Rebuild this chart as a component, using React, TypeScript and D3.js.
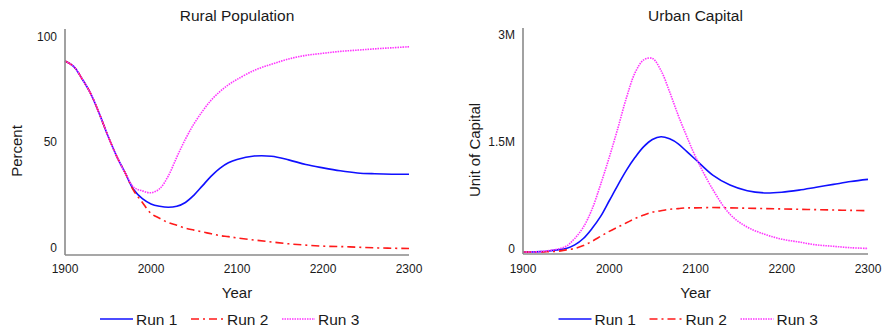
import React from "react";
import * as d3 from "d3";

// sample years shared by both panels
const years = [
  1900, 1910, 1920, 1930, 1940, 1950, 1960, 1970, 1980, 1990, 2000,
  2010, 2020, 2030, 2040, 2050, 2060, 2070, 2080, 2090, 2100,
  2120, 2140, 2160, 2180, 2200, 2220, 2240, 2260, 2280, 2300,
];

// Rural Population (percent)
const ruralRun1 = [
  90, 87.5, 81.5, 74.5, 65, 54.5, 45, 37, 29, 24.8, 22.3,
  21.2, 20.7, 21.2, 23, 26.5, 31, 35.5, 39.2, 41.8, 43.4,
  45, 44.9, 43.2, 41, 39.4, 38, 37, 36.6, 36.4, 36.4,
];
const ruralRun2 = [
  90, 87.5, 81.5, 74.5, 65, 54.5, 45, 37, 28.5, 23, 17.8,
  15.5, 13.5, 12.2, 10.8, 9.9, 9, 8.2, 7.3, 6.8, 6.2,
  5.2, 4.3, 3.4, 2.8, 2.3, 2.1, 1.8, 1.5, 1.3, 1.2,
];
const ruralRun3 = [
  90, 87.5, 81.5, 74.5, 65, 54.5, 45, 37, 30.2, 28.5, 27.6,
  29.5, 35.5, 44.5, 53, 60.3, 66.3, 71.5, 75.5, 78.8, 81.3,
  85.6, 88.5, 91, 92.7, 93.7, 94.6, 95.2, 95.8, 96.3, 96.8,
];

// Urban Capital (millions of units)
const capitalRun1 = [
  0, 0, 0.005, 0.015, 0.03, 0.05, 0.1, 0.19, 0.33, 0.5, 0.72,
  0.94, 1.15, 1.33, 1.48, 1.58, 1.62, 1.59, 1.52, 1.41, 1.3,
  1.08, 0.94, 0.86, 0.83, 0.84, 0.87, 0.91, 0.95, 0.99, 1.02,
];
const capitalRun2 = [
  0, 0, 0, 0.005, 0.01, 0.03, 0.05, 0.09, 0.15, 0.22, 0.29,
  0.35, 0.41, 0.47, 0.52, 0.56, 0.58, 0.6, 0.61, 0.62, 0.62,
  0.625, 0.62, 0.615, 0.61, 0.605, 0.6, 0.595, 0.59, 0.585, 0.58,
];
const capitalRun3 = [
  0, 0, 0.005, 0.02, 0.04, 0.08, 0.19, 0.35, 0.6, 0.95, 1.33,
  1.74, 2.17, 2.52, 2.7, 2.72, 2.55, 2.25, 1.92, 1.62, 1.34,
  0.88, 0.53, 0.35, 0.25, 0.18, 0.14, 0.1, 0.08, 0.06, 0.05,
];

const xTicks = [1900, 2000, 2100, 2200, 2300];
const ruralTicks = [0, 50, 100];
const capitalTicks = [0, 1.5e6, 3e6];

const runNames = ["Run 1", "Run 2", "Run 3"];
const runStyles = [
  { stroke: "#1010ff", dash: "none", width: 1.6 },
  { stroke: "#ff1a1a", dash: "8,4,2,4", width: 1.6 },
  { stroke: "#ff33ff", dash: "1.5,1", width: 1.6 },
];

const FONT = "'Liberation Sans', Arial, sans-serif";

function Panel({ x0, x1, yTop, yZero, yMaxPx, axisBottom, title, yLabel, series, yMax, ticks, fmt, scaleMult }) {
  const x = d3.scaleLinear().domain([1900, 2300]).range([x0, x1]);
  const y = d3.scaleLinear().domain([0, yMax]).range([yZero, yMaxPx]);
  const line = d3
    .line<number>()
    .x((d, i) => x(years[i]))
    .y((d) => y(d * scaleMult))
    .curve(d3.curveCatmullRom.alpha(0.5));
  const cx = (x0 + x1) / 2;
  const legendStart = cx - 137;

  return (
    <g fontFamily={FONT} fill="#1a1a1a">
      <text x={cx} y={21} textAnchor="middle" fontSize={15.5}>{title}</text>
      {series.map((s, i) => (
        <path
          key={i}
          d={line(s) || ""}
          fill="none"
          stroke={runStyles[i].stroke}
          strokeWidth={runStyles[i].width}
          strokeDasharray={runStyles[i].dash}
        />
      ))}
      <line x1={x0} x2={x0} y1={yTop} y2={axisBottom} stroke="#8a8a8a" strokeWidth={1.6} />
      <line x1={x0} x2={x1} y1={axisBottom} y2={axisBottom} stroke="#8a8a8a" strokeWidth={1.6} />
      {ticks.map((t) => (
        <text key={t} x={x0 - 8} y={y(t) - 3} dy="0.32em" textAnchor="end" fontSize={12}>
          {fmt(t)}
        </text>
      ))}
      {xTicks.map((t) => (
        <text key={t} x={x(t)} y={273} textAnchor="middle" fontSize={12}>{t}</text>
      ))}
      <text x={cx} y={298} textAnchor="middle" fontSize={15}>Year</text>
      <text
        transform={`translate(${x0 - 43},${(yTop + axisBottom) / 2 + 9}) rotate(-90)`}
        textAnchor="middle"
        fontSize={15}
      >
        {yLabel}
      </text>
      {runNames.map((n, i) => {
        const lx = legendStart + i * 91;
        return (
          <g key={n}>
            <line
              x1={lx}
              x2={lx + 33}
              y1={319}
              y2={319}
              stroke={runStyles[i].stroke}
              strokeWidth={runStyles[i].width}
              strokeDasharray={runStyles[i].dash}
            />
            <text x={lx + 36} y={324.5} fontSize={15.5}>{n}</text>
          </g>
        );
      })}
    </g>
  );
}

export default function App() {
  return (
    <svg width={883} height={332} style={{ position: "absolute", left: 0, top: 0, background: "#fff" }}>
      <Panel
        x0={65}
        x1={409}
        yTop={29}
        yZero={251}
        yMaxPx={40}
        axisBottom={255}
        title="Rural Population"
        yLabel="Percent"
        series={[ruralRun1, ruralRun2, ruralRun3]}
        yMax={100}
        ticks={ruralTicks}
        fmt={(d) => String(d)}
        scaleMult={1}
      />
      <Panel
        x0={523}
        x1={868}
        yTop={28}
        yZero={252}
        yMaxPx={38.5}
        axisBottom={254}
        title="Urban Capital"
        yLabel="Unit of Capital"
        series={[capitalRun1, capitalRun2, capitalRun3]}
        yMax={3e6}
        ticks={capitalTicks}
        fmt={d3.format(".2~s")}
        scaleMult={1e6}
      />
    </svg>
  );
}
